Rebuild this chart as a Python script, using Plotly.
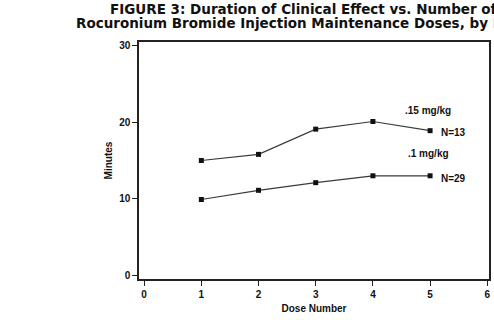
import plotly.graph_objects as go

dose_number = [1, 2, 3, 4, 5]
minutes_015 = [15.0, 15.8, 19.1, 20.1, 18.9]
minutes_010 = [9.9, 11.1, 12.1, 13.0, 13.0]
x_ticks = [0, 1, 2, 3, 4, 5, 6]
y_ticks = [0, 10, 20, 30]
title_lines = ["FIGURE 3: Duration of Clinical Effect vs. Number of",
               "Rocuronium Bromide Injection Maintenance Doses, by Dose"]
series_labels = [(".15 mg/kg", "N=13"), (".1 mg/kg", "N=29")]

FONT = "Liberation Sans, Arial, sans-serif"

fig = go.Figure()
for ys in (minutes_015, minutes_010):
    fig.add_trace(go.Scatter(
        x=dose_number, y=ys, mode="lines+markers",
        line=dict(color="#3a3a3a", width=1.2),
        marker=dict(symbol="square", size=5, color="#111111"),
        showlegend=False, hoverinfo="skip"))

axis_common = dict(
    showgrid=False, zeroline=False, showline=True, linecolor="#222222",
    linewidth=1.5, mirror=True, ticks="outside", ticklen=5, tickwidth=1.3,
    tickcolor="#222222",
    tickfont=dict(family=FONT, size=10, color="#111111", weight="bold"),
)

fig.update_xaxes(range=[-0.09, 6.03], tickvals=x_ticks,
                 title=dict(text="Dose Number", standoff=6,
                            font=dict(family=FONT, size=10, color="#111111", weight="bold")),
                 **axis_common)
fig.update_yaxes(range=[-0.5, 30.5], tickvals=y_ticks,
                 title=dict(text="Minutes", standoff=5,
                            font=dict(family=FONT, size=10, color="#111111", weight="bold")),
                 **axis_common)

annotations = []
title_y = [1.138, 1.080]
for line, ty in zip(title_lines, title_y):
    annotations.append(dict(
        text=line, xref="paper", yref="paper", x=0.469, y=ty,
        xanchor="center", yanchor="middle", showarrow=False,
        font=dict(family="DejaVu Sans, sans-serif", size=13.5, color="#111111", weight="bold")))

label_pos = [((4.96, 21.6), (5.41, 18.6)), ((4.97, 15.9), (5.41, 12.7))]
for (dose_lbl, n_lbl), (p1, p2) in zip(series_labels, label_pos):
    for txt, (ax, ay) in ((dose_lbl, p1), (n_lbl, p2)):
        annotations.append(dict(
            text=txt, x=ax, y=ay, xref="x", yref="y", showarrow=False,
            xanchor="center", yanchor="middle",
            font=dict(family=FONT, size=10, color="#111111", weight="bold")))

fig.update_layout(
    width=494, height=320,
    margin=dict(l=139, r=3, t=42, b=41),
    paper_bgcolor="white", plot_bgcolor="white",
    annotations=annotations,
)

fig.write_html("out.html", config={"displayModeBar": False},
               post_script="document.body.style.margin='0';document.body.style.overflow='hidden';")
